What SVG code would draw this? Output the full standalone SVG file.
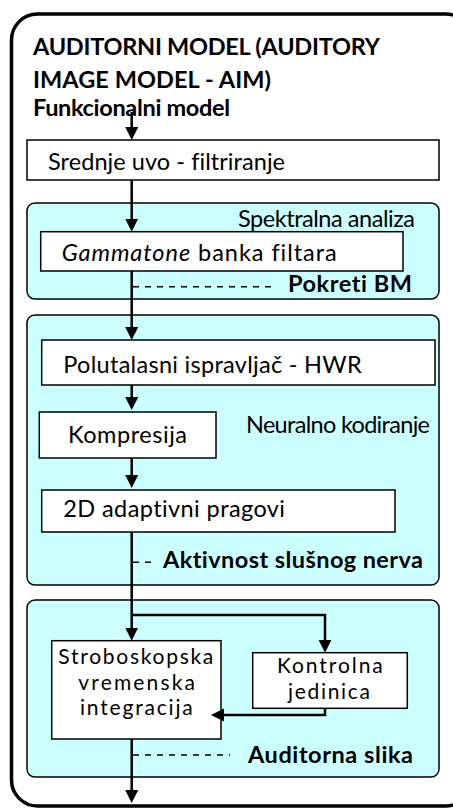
<svg xmlns="http://www.w3.org/2000/svg" width="453" height="809" viewBox="0 0 453 809">
<defs>
<style>
.t{font-family:Lato,"Open Sans","Liberation Sans",sans-serif;font-size:23.5px;fill:#000;font-variant-ligatures:none;font-feature-settings:"liga" 0}
.b{font-weight:bold}
.m{font-size:21px}
.box{fill:#fff;stroke:#000;stroke-width:1.5}
.panel{fill:#ccffff;stroke:#000;stroke-width:1.5}
.ln{fill:none;stroke:#000;stroke-width:2.5}
.dash{fill:none;stroke:#000;stroke-width:1.5;stroke-dasharray:6 6}
</style>
<marker id="ah" markerUnits="userSpaceOnUse" markerWidth="14" markerHeight="14" refX="10" refY="6.5" orient="auto">
<path d="M0,0 L13,6.5 L0,13 z" fill="#000"/>
</marker>
</defs>
<rect width="453" height="809" fill="#fff"/>
<g id="frame">
<rect x="11.5" y="14" width="460" height="792" rx="26" fill="#fff" stroke="#000" stroke-width="3.5"/>
<text class="t b" x="33" y="55" font-size="24.5" textLength="347">AUDITORNI MODEL (AUDITORY</text>
<text class="t b" x="33" y="88" font-size="24.5" textLength="238">IMAGE MODEL - AIM)</text>
<text class="t b" x="33" y="116" font-size="21.5" textLength="197">Funkcionalni model</text>
</g>
<g id="panel-spektralna">
<rect class="panel" x="27" y="203" width="412" height="96" rx="8"/>
<text class="t" x="238" y="226.5" textLength="177">Spektralna analiza</text>
<text class="t b" x="288" y="291.5" font-size="21.5" textLength="124">Pokreti BM</text>
</g>
<g id="panel-neuralno">
<rect class="panel" x="27" y="315" width="412" height="270" rx="8"/>
<text class="t" x="246" y="433" textLength="184">Neuralno kodiranje</text>
<text class="t b" x="163" y="568" font-size="21.5" textLength="260">Aktivnost slušnog nerva</text>
</g>
<g id="panel-auditorna">
<rect class="panel" x="27" y="600" width="412" height="177" rx="8"/>
<text class="t b" x="248" y="762.5" font-size="21.5" textLength="165">Auditorna slika</text>
</g>
<g id="node-srednje-uvo">
<rect class="box" x="27" y="140" width="412" height="40"/>
<text class="t" x="48" y="170" textLength="237">Srednje uvo - filtriranje</text>
</g>
<g id="node-gammatone">
<rect class="box" x="40.7" y="231.7" width="362.3" height="39.3"/>
<text class="t" x="61.7" y="260.5" textLength="275"><tspan font-style="italic">Gammatone</tspan> banka filtara</text>
</g>
<g id="node-hwr">
<rect class="box" x="41.7" y="340" width="393.3" height="45"/>
<text class="t" x="63.3" y="373.3" textLength="298.4">Polutalasni ispravljač - HWR</text>
</g>
<g id="node-kompresija">
<rect class="box" x="39.3" y="412" width="176.7" height="46"/>
<text class="t" x="68" y="443.3" textLength="119">Kompresija</text>
</g>
<g id="node-2d">
<rect class="box" x="41.7" y="490" width="353.3" height="42"/>
<text class="t" x="63.3" y="516.7" textLength="221.7">2D adaptivni pragovi</text>
</g>
<g id="node-strobo">
<rect class="box" x="51.7" y="640.7" width="169.3" height="98.3"/>
<text class="t m" x="58.3" y="664" textLength="155">Stroboskopska</text>
<text class="t m" x="78.3" y="689.6" textLength="116.7">vremenska</text>
<text class="t m" x="80" y="715.2" textLength="112.7">integracija</text>
</g>
<g id="node-kontrolna">
<rect class="box" x="252.7" y="652.7" width="154.6" height="55.6"/>
<text class="t m" x="277" y="672.8" textLength="105.7">Kontrolna</text>
<text class="t m" x="288" y="698.5" textLength="82">jedinica</text>
</g>
<g id="connectors">
<line class="ln" x1="131.7" y1="112" x2="131.7" y2="137" marker-end="url(#ah)"/>
<line class="ln" x1="131.7" y1="180" x2="131.7" y2="228.7" marker-end="url(#ah)"/>
<line class="ln" x1="131.7" y1="271" x2="131.7" y2="337" marker-end="url(#ah)"/>
<line class="ln" x1="131.7" y1="385" x2="131.7" y2="407" marker-end="url(#ah)"/>
<line class="ln" x1="131.7" y1="458" x2="131.7" y2="485" marker-end="url(#ah)"/>
<line class="ln" x1="131.7" y1="532" x2="131.7" y2="637.7" marker-end="url(#ah)"/>
<path class="ln" d="M131.7,615 H325 V649.7" marker-end="url(#ah)"/>
<path class="ln" d="M325,708.3 V715 H214" marker-end="url(#ah)"/>
<line class="ln" x1="131.7" y1="739" x2="131.7" y2="800" marker-end="url(#ah)"/>
<line class="dash" x1="133" y1="286.7" x2="277" y2="286.7"/>
<line class="dash" x1="133" y1="562.3" x2="152" y2="562.3" stroke-dasharray="5 8"/>
<line class="dash" x1="133" y1="755" x2="230" y2="755"/>
</g>
</svg>
